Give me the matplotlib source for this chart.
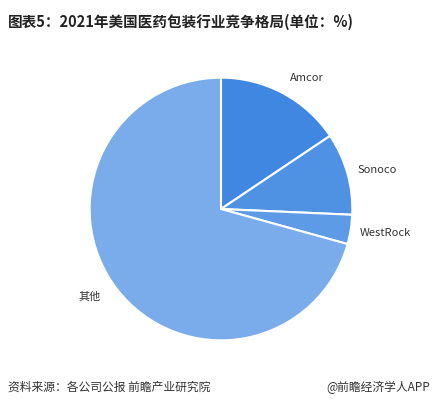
import matplotlib
matplotlib.use('Agg')
import matplotlib.pyplot as plt

plt.rcParams['font.family'] = ['Noto Sans CJK SC', 'DejaVu Sans']

labels = ["Amcor", "Sonoco", "WestRock", "其他"]
shares = [15.6, 10.1, 3.6, 70.7]
colors = ["#3f87e1", "#4f92e4", "#5e9be7", "#7aabeb"]

fig = plt.figure(figsize=(4.36, 4.08), dpi=100, facecolor="white")
ax = fig.add_axes([(221 - 132) / 436, 1 - (209 + 132) / 408, 264 / 436, 264 / 408])
wedges, _ = ax.pie(shares, colors=colors, startangle=90, counterclock=False,
                   wedgeprops=dict(edgecolor="white", linewidth=1.5))
ax.set_aspect('equal')
ax.set_xlim(-1.005, 1.005)
ax.set_ylim(-1.005, 1.005)

label_pos = {"Amcor": (307, 78), "Sonoco": (377, 170), "WestRock": (385, 233), "其他": (90, 297)}
for name, (x, y) in label_pos.items():
    fig.text(x / 436, 1 - y / 408, name, fontsize=8, color="#333333",
             ha="center", va="center")

fig.text(8 / 436, 1 - 22 / 408, "图表5：2021年美国医药包装行业竞争格局(单位：%)",
         fontsize=10.5, fontweight="bold", color="#222222", va="center")
fig.text(8 / 436, 1 - 387 / 408, "资料来源：各公司公报 前瞻产业研究院",
         fontsize=8.5, color="#333333", va="center")
fig.text(430 / 436, 1 - 387 / 408, "@前瞻经济学人APP",
         fontsize=8.5, color="#333333", va="center", ha="right")

fig.savefig("out.png", dpi=100, facecolor="white")
